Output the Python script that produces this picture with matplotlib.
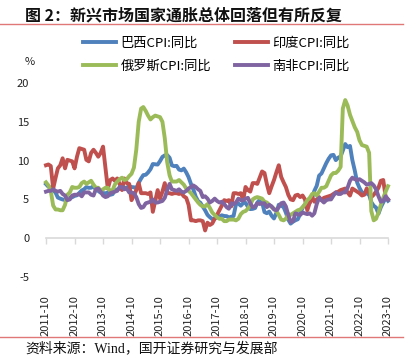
import matplotlib
matplotlib.use("Agg")
import matplotlib.pyplot as plt
from matplotlib.lines import Line2D
import pandas as pd

plt.rcParams['font.family'] = ['Noto Sans CJK SC', 'DejaVu Sans']

dates = pd.date_range('2011-10-01', periods=145, freq='MS')

brazil = [6.97, 6.64, 6.50,
          6.22, 5.85, 5.24, 5.10, 4.99, 4.92, 5.20, 5.24, 5.28, 5.45, 5.53, 5.84,
          6.15, 6.31, 6.59, 6.49, 6.50, 6.70, 6.27, 6.09, 5.86, 5.84, 5.77, 5.91,
          5.59, 5.68, 6.15, 6.28, 6.37, 6.52, 6.50, 6.51, 6.75, 6.59, 6.56, 6.41,
          7.14, 7.70, 8.13, 8.17, 8.47, 8.89, 9.56, 9.53, 9.49, 9.93, 10.48, 10.67,
          10.71, 10.36, 9.39, 9.28, 9.32, 8.84, 8.74, 8.97, 8.48, 7.87, 6.99, 6.29,
          5.35, 4.76, 4.57, 4.08, 3.60, 3.00, 2.71, 2.46, 2.54, 2.70, 2.80, 2.95,
          2.86, 2.84, 2.68, 2.76, 2.86, 4.39, 4.48, 4.19, 4.53, 4.56, 4.05, 3.75,
          3.78, 3.89, 4.58, 4.94, 4.66, 3.37, 3.22, 3.43, 2.89, 2.54, 3.27, 4.31,
          4.19, 4.01, 3.30, 2.40, 1.88, 2.13, 2.31, 2.44, 3.14, 3.92, 4.31, 4.52,
          4.56, 5.20, 6.10, 6.76, 8.06, 8.35, 8.99, 9.68, 10.25, 10.67, 10.74, 10.06,
          10.38, 10.54, 11.30, 12.13, 11.73, 11.89, 10.07, 8.73, 7.17, 6.47, 5.90, 5.79,
          5.77, 5.60, 4.65, 4.18, 3.94, 3.16, 3.99, 4.61, 5.19, 4.82]

india = [9.4, 9.5, 9.3,
         6.4, 7.8, 9.0, 9.4, 10.3, 9.0, 10.1, 10.0, 9.9, 9.0, 10.5, 11.6,
         11.5, 11.4, 10.1, 9.9, 11.0, 11.4, 11.0, 10.5, 11.0, 11.8, 9.0, 6.4,
         7.5, 7.7, 7.4, 7.7, 7.0, 6.2, 7.7, 7.1, 7.0, 4.9, 5.5, 6.2,
         7.1, 5.8, 5.8, 5.8, 5.7, 5.9, 3.4, 4.8, 6.2, 5.1, 6.0, 7.1,
         5.8, 5.8, 5.7, 5.8, 5.8, 5.7, 5.8, 5.4, 5.2, 4.3, 2.3, 2.3,
         2.2, 2.3, 2.3, 2.2, 1.0, 2.0, 1.7, 1.9, 2.5, 3.0, 3.6, 4.2,
         4.9, 4.8, 4.9, 4.1, 5.8, 5.8, 5.7, 5.8, 4.9, 6.6, 6.2, 6.0,
         7.1, 7.1, 7.0, 7.8, 8.6, 8.4, 7.0, 5.8, 6.7, 7.5, 8.5, 9.4,
         7.9, 7.2, 6.6, 5.6, 5.0, 4.9, 5.5, 5.6, 5.3, 5.5, 5.0, 3.6,
         4.6, 5.3, 4.7, 5.0, 5.3, 4.9, 5.2, 5.3, 5.4, 5.5, 5.7, 5.9,
         6.0, 6.2, 6.3, 6.4, 5.9, 5.5, 6.4, 6.2, 6.0, 5.8, 5.5, 5.6,
         6.4, 5.9, 5.3, 5.6, 6.0, 6.5, 7.4, 7.5, 5.3, 5.0]

russia = [7.2, 6.8, 6.1,
          4.2, 3.7, 3.7, 3.6, 3.6, 4.3, 5.6, 5.9, 6.6, 6.5, 6.5, 6.6,
          7.1, 7.3, 7.0, 7.2, 7.4, 6.9, 6.5, 6.5, 6.1, 6.3, 6.5, 6.5,
          6.1, 6.2, 6.9, 7.3, 7.6, 7.8, 7.5, 7.6, 8.0, 8.3, 9.1, 11.4,
          15.0, 16.7, 16.9, 16.4, 15.8, 15.3, 15.6, 15.8, 15.7, 15.6, 15.0, 12.9,
          9.8, 8.1, 7.3, 7.3, 7.3, 7.5, 7.2, 6.9, 6.4, 6.1, 5.8, 5.4,
          5.0, 4.6, 4.3, 4.1, 4.1, 4.4, 3.9, 3.3, 3.0, 2.7, 2.5, 2.5,
          2.2, 2.2, 2.4, 2.4, 2.4, 2.3, 2.5, 3.1, 3.4, 3.5, 3.8, 4.3,
          5.0, 5.2, 5.3, 5.2, 5.1, 4.7, 4.6, 4.3, 4.0, 3.8, 3.5, 3.0,
          2.4, 2.3, 2.5, 3.1, 3.0, 3.2, 3.4, 3.6, 3.7, 4.0, 4.4, 4.9,
          5.2, 5.7, 5.8, 5.5, 6.0, 6.5, 6.5, 6.7, 7.4, 8.1, 8.4, 8.4,
          8.7, 9.2, 16.7, 17.8, 17.1, 15.9, 15.1, 14.3, 13.7, 12.6, 12.0, 11.9,
          11.8, 11.0, 3.5, 2.3, 2.5, 3.3, 4.3, 5.2, 6.0, 6.7]

safrica = [6.0, 6.1, 6.1,
           6.3, 6.1, 6.0, 6.1, 5.7, 5.5, 4.9, 5.0, 5.5, 5.6, 5.6, 5.7,
           5.4, 5.9, 5.9, 5.9, 5.6, 5.5, 6.3, 6.4, 6.0, 5.5, 5.3, 5.4,
           5.8, 5.9, 6.0, 6.1, 6.6, 6.6, 6.3, 6.4, 5.9, 5.9, 5.8, 5.3,
           4.4, 3.9, 4.0, 4.5, 4.6, 4.7, 5.0, 4.6, 4.6, 4.7, 4.8, 5.2,
           6.2, 7.0, 6.3, 6.2, 6.1, 6.3, 6.0, 5.9, 6.1, 6.4, 6.6, 6.8,
           6.6, 6.3, 6.1, 5.3, 5.4, 5.1, 4.6, 4.8, 5.1, 4.8, 4.6, 4.7,
           4.4, 4.0, 3.8, 4.5, 4.4, 4.6, 5.1, 4.9, 4.9, 5.1, 5.2, 4.5,
           4.0, 4.1, 4.5, 4.4, 4.5, 4.5, 4.0, 4.3, 4.1, 3.7, 3.6, 4.0,
           4.5, 4.6, 4.1, 3.0, 2.1, 2.2, 3.2, 3.1, 3.0, 3.3, 3.2, 3.1,
           3.2, 2.9, 3.2, 4.4, 5.2, 4.9, 4.6, 4.9, 5.0, 5.0, 5.5, 5.9,
           5.7, 5.7, 5.9, 5.9, 6.5, 7.4, 7.8, 7.6, 7.5, 7.6, 7.4, 7.2,
           6.9, 7.0, 7.1, 6.8, 6.3, 5.4, 4.7, 4.8, 5.4, 5.0]

series_names = ['巴西CPI:同比', '印度CPI:同比', '俄罗斯CPI:同比', '南非CPI:同比']
series_colors = ['#4F81BD', '#C0504D', '#9BBB59', '#8064A2']
tick_dates = pd.date_range('2011-10-01', '2023-10-01', freq='12MS')
tick_labels = [d.strftime('%Y-%m') for d in tick_dates]
yticks = [-5, 0, 5, 10, 15, 20]

W, H = 411, 359
fig = plt.figure(figsize=(W / 100, H / 100), dpi=100)
ax = fig.add_axes([46 / W, (H - 277) / H, (388 - 46) / W, (277 - 83) / H])

handles = []
for vals, name, col in zip([brazil, india, russia, safrica], series_names, series_colors):
    h, = ax.plot(dates, vals, color=col, lw=2.8, label=name, clip_on=False,
                 solid_joinstyle='round')
    handles.append(h)

ax.set_xlim(dates[0], dates[-1])
ax.set_ylim(-5, 20)
ax.set_yticks(yticks)
ax.set_yticklabels([str(v) for v in yticks])
ax.set_xticks(tick_dates)
ax.set_xticklabels(tick_labels)

for s in ['left', 'right', 'top']:
    ax.spines[s].set_visible(False)
ax.spines['bottom'].set_position(('data', 0))
ax.spines['bottom'].set_color('#D9D9D9')
ax.spines['bottom'].set_linewidth(1.2)
ax.spines['bottom'].set_zorder(0)
ax.tick_params(axis='y', length=0, labelsize=8, colors='#222222', pad=12)
ax.tick_params(axis='x', length=4, width=1.0, color='#D9D9D9', direction='out',
               labelsize=8, labelcolor='#222222', pad=37, labelrotation=90)
for lab in ax.get_xticklabels():
    lab.set_va('top')
    lab.set_ha('center')

fig.text(25 / W, 1 - 62 / H, '%', fontsize=8, color='#222222', va='center')

order = [0, 2, 1, 3]
fig.legend([handles[i] for i in order], [series_names[i] for i in order],
           ncol=2, loc='upper left', bbox_to_anchor=(83 / W, 1 - 37 / H),
           frameon=False, fontsize=9.5, handlelength=2.5, handletextpad=0.35,
           columnspacing=1.8, labelspacing=0.75, borderpad=0, borderaxespad=0)

fig.text(25 / W, 1 - 15 / H, '图 2：新兴市场国家通胀总体回落但有所反复',
         fontsize=11.5, fontweight='bold', va='center', color='#111111')
fig.add_artist(Line2D([0, 403 / W], [1 - 24 / H] * 2, color='#E07878', lw=1.0))
fig.add_artist(Line2D([0, 403 / W], [1 - 337 / H] * 2, color='#E07878', lw=1.0))
fig.text(25 / W, 1 - 348 / H, '资料来源：Wind，国开证券研究与发展部',
         fontsize=10, va='center', color='#111111',
         family=['Liberation Serif', 'Noto Sans CJK SC'])

fig.savefig('out.png', dpi=100)
